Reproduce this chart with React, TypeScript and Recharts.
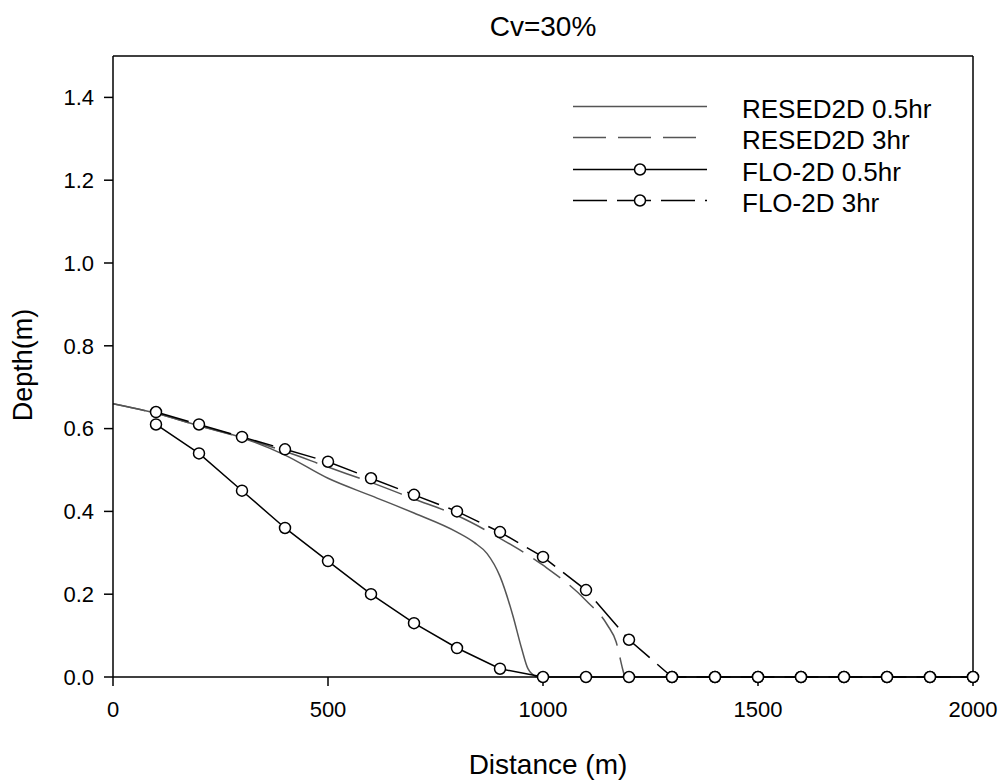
import React from "react";
import { LineChart, Line, XAxis, YAxis, ReferenceLine } from "recharts";

const FONT = "'Liberation Sans', Arial, sans-serif";

// RESED2D results (smooth curves)
const resed05X = [0, 100, 200, 300, 400, 500, 600, 700, 800, 840, 870, 900, 930, 950, 965, 985];
const resed05Y = [0.66, 0.637, 0.607, 0.578, 0.536, 0.48, 0.438, 0.396, 0.35, 0.325, 0.298, 0.243, 0.148, 0.07, 0.02, 0];
const resed3X = [0, 100, 200, 300, 400, 500, 600, 700, 800, 900, 1000, 1100, 1150, 1170, 1185, 1190];
const resed3Y = [0.66, 0.637, 0.607, 0.578, 0.545, 0.507, 0.47, 0.43, 0.39, 0.335, 0.27, 0.185, 0.125, 0.085, 0.02, 0];

// FLO-2D results (sampled every 100 m)
const floX = [100, 200, 300, 400, 500, 600, 700, 800, 900, 1000, 1100, 1200, 1300, 1400, 1500, 1600, 1700, 1800, 1900, 2000];
const flo05Y = [0.61, 0.54, 0.45, 0.36, 0.28, 0.2, 0.13, 0.07, 0.02, 0, 0, 0, 0, 0, 0, 0, 0, 0, 0, 0];
const flo3Y = [0.64, 0.61, 0.58, 0.55, 0.52, 0.48, 0.44, 0.4, 0.35, 0.29, 0.21, 0.09, 0, 0, 0, 0, 0, 0, 0, 0];

const xTicks = [0, 500, 1000, 1500, 2000];
const yTicks = [0, 0.2, 0.4, 0.6, 0.8, 1.0, 1.2, 1.4];

const toPoints = (xs: number[], ys: number[]) => xs.map((x, i) => ({ x, y: ys[i] }));

const resed05 = toPoints(resed05X, resed05Y);
const resed3 = toPoints(resed3X, resed3Y);
const flo05 = toPoints(floX, flo05Y);
const flo3 = toPoints(floX, flo3Y);

const GRAY = "#555";

const dot = { r: 5.5, fill: "#fff", stroke: "#000", strokeWidth: 1.5 };

const legendRows = [
  { name: "RESED2D 0.5hr", y: 106, color: GRAY, dash: undefined, marker: false },
  { name: "RESED2D 3hr", y: 137, color: GRAY, dash: "33 12", marker: false },
  { name: "FLO-2D 0.5hr", y: 169, color: "#000", dash: undefined, marker: true },
  { name: "FLO-2D 3hr", y: 200, color: "#000", dash: "34 10", marker: true },
];

function LegendBox() {
  return (
    <>
      {legendRows.map((row) => (
        <React.Fragment key={row.name}>
          <svg
            width={140}
            height={31}
            style={{ position: "absolute", left: 570, top: row.y - 15.5 }}
          >
            <line
              x1={3}
              x2={137}
              y1={15.5}
              y2={15.5}
              stroke={row.color}
              strokeWidth={1.5}
              strokeDasharray={row.dash}
            />
            {row.marker && (
              <circle cx={70} cy={15.5} r={5.5} fill="#fff" stroke="#000" strokeWidth={1.5} />
            )}
          </svg>
          <div
            style={{
              position: "absolute",
              left: 742,
              top: row.y - 10,
              fontSize: 26,
              lineHeight: "26px",
              fontFamily: FONT,
              whiteSpace: "nowrap",
            }}
          >
            {row.name}
          </div>
        </React.Fragment>
      ))}
    </>
  );
}

export default function App() {
  const tick = { fill: "#000", fontSize: 22, fontFamily: FONT };
  const axisLine = { stroke: "#000", strokeWidth: 1.5 };
  return (
    <div style={{ position: "absolute", left: 0, top: 0, width: 1006, height: 784, background: "#fff" }}>
      <LineChart width={1006} height={784} margin={{ top: 56, right: 33, bottom: 67, left: 53 }}>
        <XAxis
          type="number"
          dataKey="x"
          domain={[0, 2000]}
          ticks={xTicks}
          tick={tick}
          tickSize={9}
          tickMargin={15}
          height={40}
          axisLine={axisLine}
          tickLine={axisLine}
          allowDuplicatedCategory={false}
        />
        <YAxis
          type="number"
          dataKey="y"
          domain={[0, 1.5]}
          ticks={yTicks}
          tickFormatter={(v: number) => v.toFixed(1)}
          tick={tick}
          tickSize={9}
          tickMargin={10}
          width={60}
          axisLine={axisLine}
          tickLine={axisLine}
        />
        <ReferenceLine y={1.5} stroke="#000" strokeWidth={1.5} />
        <ReferenceLine x={2000} stroke="#000" strokeWidth={1.5} />
        <Line
          data={resed05}
          dataKey="y"
          type="monotone"
          stroke={GRAY}
          strokeWidth={1.5}
          dot={false}
          isAnimationActive={false}
        />
        <Line
          data={resed3}
          dataKey="y"
          type="monotone"
          stroke={GRAY}
          strokeWidth={1.5}
          strokeDasharray="33 12"
          dot={false}
          isAnimationActive={false}
        />
        <Line
          data={flo05}
          dataKey="y"
          type="linear"
          stroke="#000"
          strokeWidth={1.5}
          dot={dot}
          activeDot={false}
          isAnimationActive={false}
        />
        <Line
          data={flo3}
          dataKey="y"
          type="linear"
          stroke="#000"
          strokeWidth={1.5}
          strokeDasharray="34 10"
          dot={dot}
          activeDot={false}
          isAnimationActive={false}
        />
      </LineChart>

      <div
        style={{
          position: "absolute",
          left: 343,
          width: 400,
          top: 13,
          textAlign: "center",
          fontSize: 28,
          lineHeight: "28px",
          fontFamily: FONT,
        }}
      >
        Cv=30%
      </div>
      <div
        style={{
          position: "absolute",
          left: 348,
          width: 400,
          top: 751,
          textAlign: "center",
          fontSize: 28,
          lineHeight: "28px",
          fontFamily: FONT,
        }}
      >
        Distance (m)
      </div>
      <div
        style={{
          position: "absolute",
          left: -77,
          top: 351,
          width: 200,
          height: 28,
          textAlign: "center",
          fontSize: 27,
          lineHeight: "28px",
          fontFamily: FONT,
          transform: "rotate(-90deg)",
        }}
      >
        Depth(m)
      </div>
      <LegendBox />
    </div>
  );
}
